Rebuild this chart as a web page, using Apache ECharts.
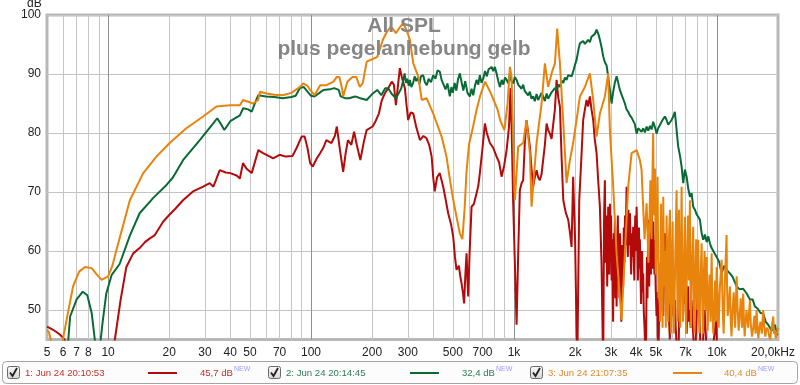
<!DOCTYPE html>
<html><head><meta charset="utf-8">
<script src="https://cdn.jsdelivr.net/npm/echarts@6/dist/echarts.min.js"></script>
<style>html,body{margin:0;padding:0;background:#fff}#c{width:800px;height:385px}</style>
</head><body><div id="c"></div>
<script>
const titleLines = ['All SPL', 'plus pegelanhebung gelb'];
const yAxisName = 'dB';
const xTickLabels = [5,6,7,8,10,20,30,40,50,70,100,200,300,500,700,1000,2000,3000,4000,5000,7000,10000,20000];
const xGridValues = [6,7,8,9,10,20,30,40,50,60,70,80,90,100,200,300,400,500,600,700,800,900,1000,2000,3000,4000,5000,6000,7000,8000,9000,10000];
const yTicks = [50,60,70,80,90,100];
const seriesNames = ['1: Jun 24 20:10:53', '2: Jun 24 20:14:45', '3: Jun 24 21:07:35'];
const seriesLevels = ['45,7 dB', '32,4 dB', '40,4 dB'];
const levelTag = 'NEW';

// [frequency Hz, SPL dB]
const redPoints = [[5.0,47.2],[5.2,46.9],[5.5,46.4],[5.8,45.8],[6.0,45.3],[6.3,44.2],[6.8,42],[8,40],[10.2,40],[10.8,45],[11.5,51.5],[12.3,57.3],[13.3,59.6],[14.3,60.5],[15.2,61.5],[16.0,62.1],[17.0,62.7],[18.7,65],[20,66.1],[21.5,67.2],[23.4,68.6],[26.2,70.1],[29.4,70.9],[31.7,71.5],[33,70.9],[34,72],[35.5,73.7],[38,73.3],[40,73.2],[43,72.8],[44.6,72.3],[46.2,74.9],[48,74],[51,73.2],[55,77.1],[58,76.6],[62.8,76],[65,75.7],[70,76.3],[75,76],[81,76.1],[85,77.5],[89.9,79.4],[93,79.4],[96,77.5],[99,74.9],[102,74.3],[106,75.5],[111,76.6],[115,77.5],[119,78.8],[126,78.3],[131,79.5],[134,81.1],[139,77],[144,73.4],[148,76.5],[152,78.8],[158,78],[163,80.2],[168,78],[175,75.4],[182,78.5],[188,80.5],[201,81.1],[208,82],[216,83.3],[223,85.5],[231,86.7],[240,87.6],[250,88.7],[256,88.2],[262,84.7],[268,88],[274,91],[280,89.5],[290,87.6],[295,85],[301,82.2],[310,83.5],[319,83.3],[330,81],[344,78.8],[358,79.5],[371,79.1],[382,78],[393,76],[400,72.5],[407,70.1],[418,72.5],[431,73.2],[448,70.9],[462,68.5],[474,66.4],[490,64.5],[502,62.4],[512,59],[521,56.8],[535,57.5],[545,55.5],[552,54.5],[560,53],[568,51.1],[576,56],[584,59.6],[590,55],[595,52.3],[605,60],[612,64],[618,67.5],[635,68],[654,69.8],[667,71],[679,73.2],[700,77.5],[719,81.6],[735,80],[761,78.3],[790,77.5],[821,76],[845,75],[869,72.6],[895,74.5],[920,77.1],[945,81],[962,87.6],[975,80],[991,68.1],[1010,58],[1030,47.5],[1050,60],[1069,70.3],[1090,71.5],[1110,72],[1130,78],[1153,82.2],[1175,80],[1198,77.7],[1220,74],[1243,70.9],[1267,72.5],[1292,73.7],[1316,72.5],[1341,72],[1367,73],[1393,73.2],[1420,78],[1448,81.6],[1474,80.5],[1503,79.9],[1532,79],[1561,78.8],[1591,84],[1622,89],[1653,86],[1684,84.5],[1716,76],[1750,68.6],[1800,66.5],[1850,65.3],[1890,63],[1922,60.7],[1957,72.6],[2000,62],[2050,40],[2097,68.6],[2150,76],[2193,82.2],[2236,84],[2279,85.6],[2320,84.5],[2366,86.2],[2410,84],[2457,82.2],[2500,79],[2553,76.6],[2600,72],[2651,67.5],[2700,58],[2752,40],[2780,66],[2805,72],[2830,58],[2850,66],[2880,54],[2913,67.5],[2950,56],[2970,68],[2990,60],[3010,66],[3027,55],[3050,62],[3080,48],[3100,63],[3120,56],[3140,65],[3160,52],[3180,60],[3204,50.6],[3230,62],[3250,66],[3270,55],[3290,60],[3310,52],[3333,63],[3355,57],[3380,48],[3400,61],[3420,55],[3452,54],[3475,64],[3500,58],[3525,66],[3550,61],[3588,70.9],[3610,63],[3640,59],[3665,67],[3690,61],[3730,66.4],[3755,60],[3780,56],[3805,63],[3830,59],[3868,64.1],[3895,58],[3920,55],[3940,63],[3960,66],[3990,60],[4021,67.5],[4050,62],[4080,55],[4105,60],[4130,64],[4150,57],[4174,62],[4200,56],[4230,51],[4255,58],[4280,60],[4310,53],[4334,56.2],[4360,50],[4400,47],[4469,40],[4500,54],[4520,59],[4550,52],[4586,65.3],[4610,58],[4640,54],[4670,61],[4700,63],[4730,56],[4766,70.9],[4790,62],[4820,57],[4855,65],[4890,60],[4920,56],[4948,61.9],[4990,54],[5040,49],[5080,53],[5136,40],[5190,49],[5240,54],[5290,50],[5339,59.6],[5390,55],[5440,49],[5490,56],[5542,63],[5600,56],[5650,59],[5700,52],[5754,54],[5800,49],[5860,45],[5920,51],[5980,48.9],[6040,53],[6100,55],[6150,49],[6209,51.7],[6270,47],[6330,44],[6446,40],[6510,48],[6580,53],[6640,56],[6700,61.3],[6760,55],[6830,51],[6890,54],[6955,56.2],[7020,50],[7100,46],[7150,51],[7200,54],[7280,48],[7350,50],[7420,47],[7504,51.7],[7580,48],[7650,45.5],[7791,40],[7950,50],[8090,54.5],[8250,46],[8400,40],[8700,50],[8900,43],[9300,40],[9900,48.3],[10100,40]];

const greenPoints = [[6.2,40],[6.5,48.9],[7.0,51.8],[7.5,53.1],[7.9,52.5],[8.3,49.5],[8.6,45],[8.8,40],[9.0,42],[9.4,48],[9.8,52.8],[10.4,55.9],[11.4,57.8],[12.8,62.6],[14.3,66.4],[16.7,69],[19.4,71.2],[20.9,72.5],[23.4,75.4],[28.3,78.8],[32.9,81.6],[34.5,82.5],[36,81.5],[37.4,80.5],[40,82],[44.6,83],[46.3,84.2],[49,84],[51,83.6],[53.5,85.5],[55,86.4],[60,86.2],[66,86.1],[72.5,85.9],[80,86.1],[84,86.3],[88,87.6],[92,87.8],[96,87],[100,86.3],[104,86.2],[110,86.8],[115,87.3],[124,87.4],[130,87.6],[137,87.3],[140,86.2],[147,85.9],[154,85.9],[165,86.2],[175,85.9],[188,85.6],[200,86.6],[212,87.3],[222,86.4],[232,87.6],[240,87.6],[250,86.6],[262,85.9],[268,86.2],[278,87.5],[285,89],[289,90.1],[294,88.5],[298,89.2],[303,88],[307,89],[312,87.8],[318,88.4],[324,89.6],[330,88.8],[336,89.4],[342,88.3],[348,89.6],[357,89.8],[364,88.6],[372,88.1],[380,89.2],[390,88.6],[400,89.8],[410,89.2],[420,90.6],[431,90.4],[440,89],[450,88.2],[460,87.4],[470,88.4],[483,86.2],[492,87.8],[500,86.8],[510,88.5],[520,87.2],[530,89.1],[541,90.1],[552,88.6],[563,87.2],[575,88.8],[590,86.8],[606,86.2],[618,87.5],[630,86.4],[642,88],[654,89],[667,88.2],[679,89.8],[692,88.5],[707,89.3],[720,90.5],[735,89.6],[750,90.8],[761,90.7],[776,91.2],[790,90.5],[805,91.2],[821,90.1],[837,88.8],[853,87.8],[870,89],[886,88.2],[903,89.4],[920,89],[937,88.4],[955,90.1],[972,88.8],[991,88.4],[1010,89.5],[1030,89],[1049,88.2],[1069,88.4],[1090,87.5],[1110,88.2],[1130,87.1],[1153,87.3],[1175,86.4],[1198,87],[1220,85.8],[1243,86.2],[1267,85.4],[1292,86.6],[1316,85.6],[1341,85.6],[1367,86.8],[1393,86.2],[1420,85.4],[1448,86.7],[1474,85.8],[1503,85.6],[1532,86.9],[1561,86.7],[1591,87.6],[1622,87.2],[1653,88.2],[1684,87.8],[1716,88.9],[1750,88.5],[1783,89.4],[1816,89],[1850,89.8],[1886,90.1],[1922,89.6],[1957,90.4],[1996,91.5],[2035,92.4],[2075,94],[2113,95.2],[2150,95],[2193,95.6],[2236,95.1],[2279,95.2],[2320,95.8],[2366,95.4],[2410,96.3],[2457,96.1],[2505,96.8],[2553,97.5],[2604,96.8],[2651,95.8],[2703,94.5],[2752,93],[2805,92],[2859,91.5],[2913,89.5],[2969,87.3],[3027,85],[3083,87],[3140,88.5],[3204,89.6],[3265,88.5],[3325,87.3],[3390,86.5],[3452,85.8],[3520,85],[3588,84],[3654,83.6],[3725,83],[3798,82.6],[3868,82.8],[3940,81.5],[4021,79.9],[4095,80.8],[4174,80.5],[4255,80.2],[4334,80.8],[4420,80.1],[4504,81.1],[4590,80.4],[4680,81.2],[4766,80.6],[4853,81.9],[4948,81],[5044,79.9],[5136,80.8],[5237,80.5],[5339,81.9],[5440,82.4],[5542,82.8],[5650,82.2],[5754,81.4],[5867,81.1],[5980,82.2],[6090,82.8],[6209,83.6],[6330,80.5],[6446,77.7],[6572,76.2],[6700,74.3],[6823,71.5],[6955,73.8],[7090,72.6],[7230,70.5],[7362,69.2],[7504,69.8],[7642,67.5],[7791,67],[7940,66.2],[8090,65.8],[8247,65.3],[8408,63],[8562,61.9],[8730,62.8],[8900,61.5],[9060,62.5],[9238,61.3],[9418,60.5],[9600,60.2],[9780,59.5],[9965,59],[10250,58.2],[10550,56.2],[10850,57.5],[11160,56.8],[11590,56.2],[11950,55.6],[12510,54],[12950,53.5],[13480,53.6],[14010,52.8],[14540,51.8],[15000,51.8],[15390,50.6],[15900,50.2],[16400,49.5],[16910,49.4],[17400,48],[17900,47.5],[18250,47.2],[18600,46.5],[18950,46.6],[19320,47.5],[19700,45.8],[20000,46]];

const orangePoints = [[5.0,46.6],[5.12,46.2],[5.26,44.5],[5.5,42],[5.9,43.5],[6.0,45.2],[6.3,49],[6.72,54],[7.2,56.5],[7.7,57.3],[8.3,57.1],[8.8,56],[9.3,55.1],[10.0,55.7],[10.5,57.5],[11.0,60.2],[12.0,65],[12.8,68.6],[14.9,73.2],[17.3,76],[20.1,78.3],[24.3,80.8],[29.4,82.8],[34.2,84.5],[40,84.7],[44.6,84.7],[46.2,85.6],[49,85.3],[51.8,85],[54.9,85.6],[56,87],[60.4,86.7],[66,86.5],[72.5,86.4],[80,86.8],[88,87.8],[91.6,88.4],[96,88],[99,87.3],[104,86.4],[111,88.1],[119,88.1],[129,88.7],[134,89.5],[138,89.5],[142,87.6],[144,86.2],[151,88.7],[160,89.5],[167,89.5],[174,87.8],[180,88.5],[188,92.1],[200,92.5],[212,92.9],[226,95.8],[235,97],[247,98],[255,97.5],[262,96.9],[275,98],[284,98.6],[295,97.5],[307,95.8],[319,91.8],[338,89.5],[351,85.6],[371,85.9],[400,83.3],[440,79.4],[465,76],[484,72],[500,69],[521,65.8],[541,63],[557,62],[572,67.5],[583,73.2],[600,78],[629,81.1],[655,84],[680,86.2],[720,88.7],[763,87],[807,85],[832,83.9],[854,82.2],[897,80.5],[930,85],[955,91.2],[973,89.5],[1010,68.6],[1049,77.7],[1110,78.3],[1153,82.2],[1198,76.6],[1221,67.5],[1292,78.3],[1368,85],[1420,91.8],[1474,87.8],[1532,90.1],[1591,91.8],[1633,97.7],[1684,91.8],[1747,82.2],[1816,71.5],[1886,75.4],[1957,78.3],[2035,82.2],[2113,86.2],[2236,87.8],[2366,90.1],[2457,85.6],[2553,79.4],[2651,83.3],[2805,86.2],[2913,90.1],[2969,80.5],[3083,70.9],[3204,59.6],[3390,48.3],[3520,59.6],[3654,70.9],[3798,76.6],[4021,77.1],[4174,75.4],[4255,73.7],[4400,62],[4504,68.1],[4600,58],[4700,72],[4760,62],[4850,80],[4900,66],[4950,74],[5000,56],[5040,63],[5100,72.6],[5150,52],[5200,58],[5250,48],[5300,68],[5350,55],[5400,47],[5440,69.2],[5500,54],[5550,60],[5600,47],[5650,66],[5700,55],[5750,48],[5800,62],[5870,67],[5910,52],[5950,46],[6000,58],[6050,65],[6100,52],[6150,46],[6240,60],[6330,70.3],[6370,55],[6400,48],[6450,62],[6500,67],[6550,52],[6600,47],[6650,60],[6700,70.9],[6750,56],[6800,48],[6880,58],[6960,65.8],[7000,52],[7050,46],[7120,58],[7200,66],[7280,55],[7360,68.6],[7400,56],[7450,47],[7540,58],[7640,64.1],[7700,52],[7750,46],[7820,55],[7900,62],[8000,50],[8090,61.9],[8150,52],[8200,46],[8300,55],[8410,61.3],[8480,50],[8550,46],[8620,56],[8700,60],[8800,50],[8900,59],[9000,46.5],[9100,52],[9200,56],[9300,48],[9420,59.6],[9500,50],[9600,46],[9700,51],[9800,55],[9880,48],[9970,57.3],[10100,52],[10200,47],[10350,54],[10550,58.5],[10680,50],[10800,46],[10950,55],[11160,62.7],[11220,54],[11300,49],[11450,51],[11590,54],[11700,48],[11800,45.5],[11950,50],[12100,53],[12300,47],[12510,55.7],[12650,50],[12800,46.5],[12950,49],[13100,52],[13300,47],[13480,52.8],[13600,48],[13700,45.5],[13850,48],[14000,50],[14250,47],[14540,51.7],[14700,47.5],[14900,45.5],[15100,47],[15300,49],[15500,46],[15690,50],[15850,47],[16000,45.2],[16200,47],[16400,48],[16650,46],[16910,50],[17100,47.5],[17300,45.5],[17600,47],[17900,46.6],[18100,45.5],[18300,45],[18600,47],[18950,48.9],[19100,46],[19320,46.6],[19500,45.2],[19700,45.5],[20000,47]];

const lineColors = ['#b40a0a', '#0a6a35', '#e8830c'];
const textColors = ['#c0302c', '#2e7d55', '#e58a2a'];

const chart = echarts.init(document.getElementById('c'), null, {renderer: 'canvas'});
const isDecade = v => Math.abs(Math.log10(v) - Math.round(Math.log10(v))) < 1e-9;
const gridColors = xGridValues.map(v => isDecade(v) ? '#8f8f8f' : '#c6c6c6');

const legendX = [
  {box: 7, name: 25, line: 148, lvl: 233},
  {box: 268, name: 286, line: 410, lvl: 495},
  {box: 530, name: 548, line: 673, lvl: 757}
];
const legendFont = '9.6px "Liberation Sans", Arial, sans-serif';
const graphics = [
  {type: 'text', left: 27, top: -2, style: {text: yAxisName, font: '12px "Liberation Sans", Arial, sans-serif', fill: '#222'}},
  {type: 'rect', shape: {x: 2.5, y: 361.5, width: 795, height: 22, r: 4}, style: {fill: '#fcfcfc', stroke: '#a4a4a4', lineWidth: 1}}
];
legendX.forEach((p, i) => {
  const cy = 373;
  graphics.push({type: 'rect', shape: {x: p.box + 0.5, y: cy - 6.5, width: 12, height: 12, r: 2}, style: {fill: {type: 'linear', x: 0, y: 0, x2: 0, y2: 1, colorStops: [{offset: 0, color: '#fafafa'}, {offset: 1, color: '#d6d6d6'}]}, stroke: '#6a6a6a', lineWidth: 1}});
  graphics.push({type: 'polyline', shape: {points: [[p.box + 3, cy - 0.5], [p.box + 5.5, cy + 3], [p.box + 10, cy - 5]]}, style: {stroke: '#222', lineWidth: 1.8, fill: null}});
  graphics.push({type: 'text', x: p.name, y: cy, style: {text: seriesNames[i], font: legendFont, fill: textColors[i], verticalAlign: 'middle'}});
  graphics.push({type: 'line', shape: {x1: p.line, y1: cy, x2: p.line + 29, y2: cy}, style: {stroke: lineColors[i], lineWidth: 2}});
  graphics.push({type: 'text', x: p.lvl, y: cy, style: {text: seriesLevels[i], font: legendFont, fill: textColors[i], align: 'right', verticalAlign: 'middle'}});
  graphics.push({type: 'text', x: p.lvl + 1, y: cy - 4, style: {text: levelTag, font: '7px "Liberation Sans", Arial, sans-serif', fill: '#9c9cff', verticalAlign: 'middle'}});
});

const allPoints = [redPoints, greenPoints, orangePoints];
chart.setOption({
  animation: false,
  backgroundColor: '#ffffff',
  title: {
    text: titleLines.join('\n'),
    left: 399, top: 10, textAlign: 'center',
    textStyle: {fontFamily: '"Liberation Sans", Arial, sans-serif', fontSize: 21, fontWeight: 'bold', color: '#868686', lineHeight: 23}
  },
  grid: {left: 47, right: 22, top: 15, bottom: 45.5, show: true, borderColor: '#b8b8b8', borderWidth: 3, backgroundColor: '#ffffff'},
  xAxis: {
    type: 'log', logBase: 10, min: 5, max: 20000,
    axisLine: {show: false},
    axisTick: {show: false, customValues: xGridValues},
    axisLabel: {
      customValues: xTickLabels, margin: 7, fontSize: 12, color: '#222',
      fontFamily: '"Liberation Sans", Arial, sans-serif',
      formatter: v => v >= 20000 ? '{k|20,0kHz}' : (v >= 1000 ? (v / 1000) + 'k' : String(v)),
      rich: {k: {fontSize: 12, color: '#222', fontFamily: '"Liberation Sans", Arial, sans-serif', padding: [0, 10, 0, 0]}}
    },
    splitLine: {show: true, lineStyle: {color: gridColors, width: 1}}
  },
  yAxis: {
    type: 'value', min: 45, max: 100,
    axisLine: {show: false},
    axisTick: {show: false, customValues: yTicks},
    axisLabel: {customValues: yTicks, margin: 6, fontSize: 12, color: '#222', fontFamily: '"Liberation Sans", Arial, sans-serif'},
    splitLine: {show: true, lineStyle: {color: '#c4c4c4', width: 1}}
  },
  series: allPoints.map((pts, i) => ({
    type: 'line', name: seriesNames[i], data: pts, showSymbol: false, symbol: 'none',
    clip: true, lineStyle: {color: lineColors[i], width: 2}, z: 2 + i
  })),
  graphic: graphics
});
</script></body></html>
